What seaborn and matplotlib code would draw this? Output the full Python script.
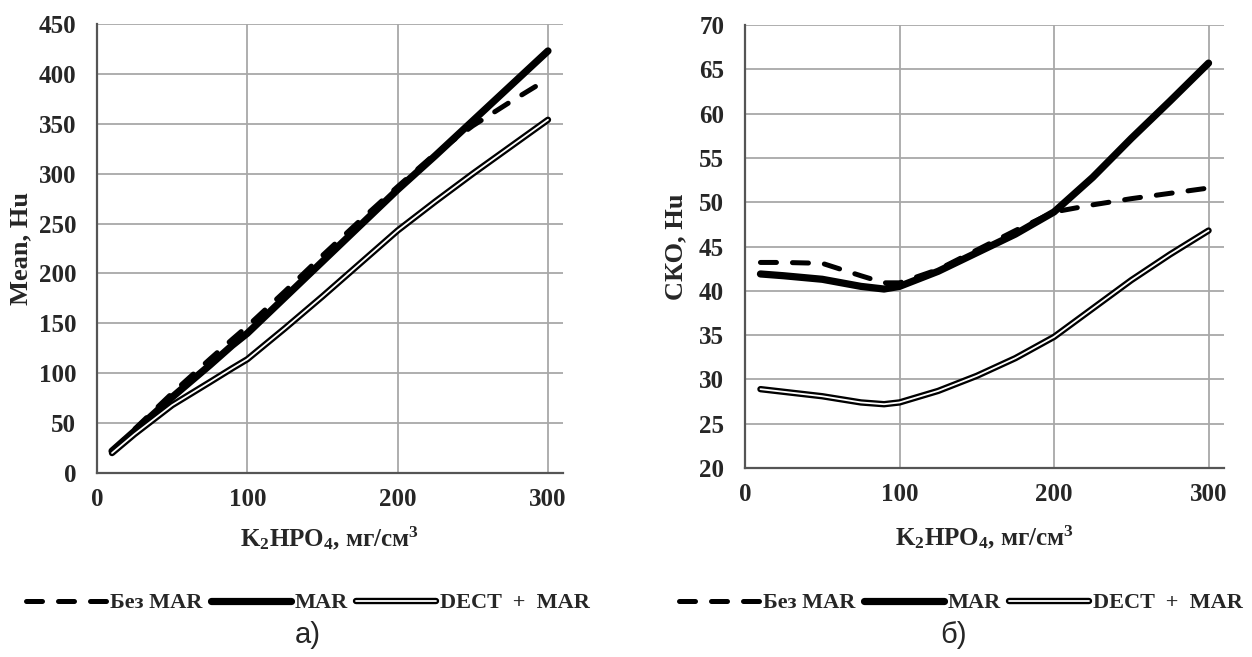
import matplotlib
matplotlib.use("Agg")
import matplotlib.pyplot as plt
import matplotlib.patheffects as pe
import seaborn as sns

# ---- data ----
conc = [10, 25, 50, 75, 90, 100, 125, 150, 175, 200, 225, 250, 275, 300]

mean_bez_mar = [22, 44, 80, 114, 134, 147, 182, 218, 253, 287, 320, 348, 372, 395]
mean_mar = [22, 42, 76, 108, 128, 140, 176, 212, 248, 284, 318, 353, 388, 423]
mean_dect_mar = [20, 39, 68, 91, 105, 114, 145, 177, 210, 243, 272, 300, 327, 354]

sko_bez_mar = [43.2, 43.2, 43.1, 41.7, 40.9, 40.9, 42.4, 44.6, 46.8, 48.9, 49.7, 50.4, 51.0, 51.6]
sko_mar = [41.9, 41.7, 41.3, 40.5, 40.2, 40.5, 42.2, 44.3, 46.4, 48.9, 52.8, 57.2, 61.4, 65.7]
sko_dect_mar = [28.9, 28.6, 28.1, 27.4, 27.2, 27.4, 28.7, 30.4, 32.4, 34.8, 38.0, 41.2, 44.1, 46.8]

series_names = ["Без MAR", "MAR", "DECT  +  MAR"]
x_ticks = [0, 100, 200, 300]
mean_ticks = list(range(0, 451, 50))
sko_ticks = list(range(20, 71, 5))

x_label = "K$_2$HPO$_4$, мг/см$^3$"
y_labels = ["Mean, Hu", "СКО, Hu"]
panel_labels = ["а)", "б)"]

# ---- style ----
sns.set_theme(style="whitegrid")
plt.rcParams["font.family"] = ["Liberation Serif", "DejaVu Serif"]
plt.rcParams["mathtext.fontset"] = "custom"
plt.rcParams["mathtext.rm"] = "Liberation Serif:bold"
plt.rcParams["mathtext.it"] = "Liberation Serif:bold"
plt.rcParams["mathtext.bf"] = "Liberation Serif:bold"

fig = plt.figure(figsize=(12.52, 6.57), dpi=100)
W, H = 1252, 657
ax1 = fig.add_axes([97 / W, 1 - 473 / H, (563 - 97) / W, (473 - 24) / H])
ax2 = fig.add_axes([745 / W, 1 - 468 / H, (1224 - 745) / W, (468 - 25) / H])


def draw(ax, ys):
    styles = [
        dict(color="black", lw=3.6, linestyle=(0, (3.2, 3.2)), dash_capstyle="round"),
        dict(color="black", lw=5.2, solid_capstyle="round"),
        dict(color="white", lw=1.3, solid_capstyle="round",
             path_effects=[pe.Stroke(linewidth=4.6, foreground="black", capstyle="round"), pe.Normal()]),
    ]
    for name, y, st in zip(series_names, ys, styles):
        sns.lineplot(x=conc, y=y, ax=ax, label=name, **st)


for ax, ys, yt, ylab, ylx, xly in [
    (ax1, [mean_bez_mar, mean_mar, mean_dect_mar], mean_ticks, y_labels[0], -0.163, -0.145),
    (ax2, [sko_bez_mar, sko_mar, sko_dect_mar], sko_ticks, y_labels[1], -0.144, -0.156),
]:
    draw(ax, ys)
    ax.set_xlim(0, 310)
    ax.set_ylim(yt[0], yt[-1])
    ax.set_xticks(x_ticks)
    ax.set_yticks(yt)
    ax.grid(True, color="#a8a8a8", linewidth=1.3)
    ax.set_facecolor("white")
    for s in ["top", "right"]:
        ax.spines[s].set_visible(False)
    for s in ["left", "bottom"]:
        ax.spines[s].set_color("#555555")
        ax.spines[s].set_linewidth(1.6)
    ax.tick_params(axis="both", length=0, labelsize=18)
    ax.tick_params(axis="x", pad=11)
    ax.tick_params(axis="y", pad=15)
    for lab in ax.get_xticklabels() + ax.get_yticklabels():
        lab.set_fontweight("bold")
    ax.set_xlabel(x_label, fontsize=18, fontweight="bold", va="center")
    ax.set_ylabel(ylab, fontsize=19, fontweight="bold", va="center")
    ax.xaxis.set_label_coords(0.5, xly)
    ax.yaxis.set_label_coords(ylx, 0.5)
    ax.get_legend().remove()

# legends and panel labels
for ax, cx in [(ax1, 308 / W), (ax2, 961 / W)]:
    h, l = ax.get_legend_handles_labels()
    fig.legend(h, l, loc="center", bbox_to_anchor=(cx, 1 - 603 / H), ncol=3, frameon=False,
               handlelength=3.6, handletextpad=0.15, columnspacing=0.4,
               prop={"family": "Liberation Serif", "weight": "bold", "size": 16})

for px, txt in [(308 / W, panel_labels[0]), (953 / W, panel_labels[1])]:
    fig.text(px, 1 - 635 / H, txt, ha="center", va="center", fontsize=21,
             family=["Liberation Sans Narrow", "Liberation Sans"])

fig.savefig("out.png", dpi=100, facecolor="white")
